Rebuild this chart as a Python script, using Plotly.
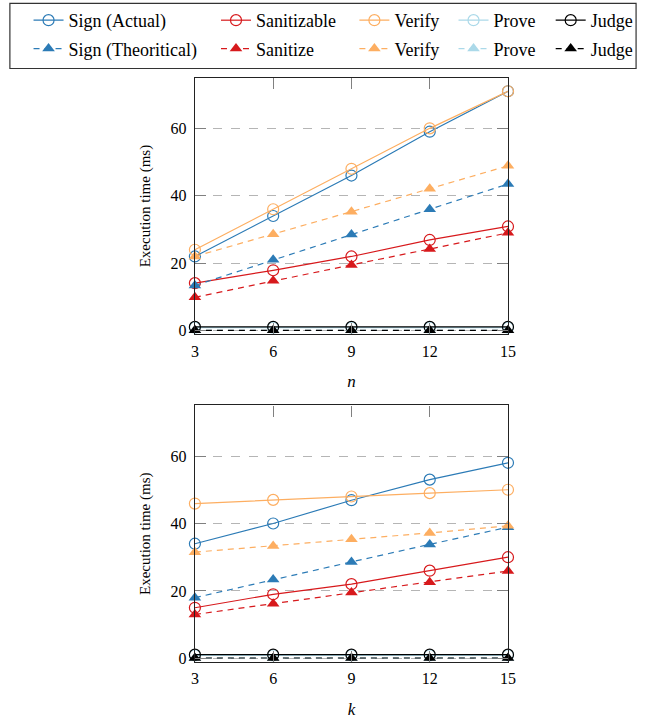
import plotly.graph_objects as go

x_vals = [3, 6, 9, 12, 15]
tick_vals_y = [0, 20, 40, 60]

# Top panel (varying n)
n_sign_actual = [22.0, 34.0, 46.0, 59.0, 71.0]
n_sanitizable = [14.1, 17.9, 22.0, 26.9, 30.9]
n_verify_actual = [24.0, 36.0, 48.0, 60.0, 71.0]
n_prove_actual = [0.9, 0.9, 0.9, 0.9, 0.9]
n_judge_actual = [1.1, 1.1, 1.1, 1.1, 1.1]
n_sign_theo = [13.4, 21.0, 28.5, 36.0, 43.5]
n_sanitize = [9.9, 14.8, 19.5, 24.2, 29.0]
n_verify_theo = [22.0, 28.6, 35.3, 42.1, 48.9]
n_prove_theo = [0.1, 0.1, 0.1, 0.1, 0.1]
n_judge_theo = [0.1, 0.1, 0.1, 0.1, 0.1]

# Bottom panel (varying k)
k_sign_actual = [34.0, 40.0, 46.9, 53.0, 58.0]
k_sanitizable = [15.0, 19.0, 22.0, 26.0, 30.0]
k_verify_actual = [45.9, 47.0, 48.0, 49.0, 50.0]
k_prove_actual = [0.9, 0.9, 0.9, 0.9, 0.9]
k_judge_actual = [1.1, 1.1, 1.1, 1.1, 1.1]
k_sign_theo = [18.0, 23.4, 28.6, 33.8, 38.9]
k_sanitize = [13.0, 16.2, 19.5, 22.6, 25.9]
k_verify_theo = [31.5, 33.3, 35.3, 37.2, 39.3]
k_prove_theo = [0.1, 0.1, 0.1, 0.1, 0.1]
k_judge_theo = [0.1, 0.1, 0.1, 0.1, 0.1]

C_SIGN = "#2c7bb6"
C_SAN = "#d7191c"
C_VER = "#fdae61"
C_PROVE = "#abd9e9"
C_JUDGE = "#000000"
FONT = "Liberation Serif"

W, H = 648, 719

fig = go.Figure()

def series(n_data, k_data, name, color, actual, legend, rank):
    for i, data in enumerate([n_data, k_data]):
        xa = "x" if i == 0 else "x2"
        ya = "y" if i == 0 else "y2"
        if actual:
            marker = dict(symbol="circle-open", size=11, color=color, line=dict(width=1.2, color=color))
            line = dict(color=color, width=1.2)
        else:
            marker = dict(symbol="triangle-up", size=11, color=color, line=dict(width=0))
            line = dict(color=color, width=1.2, dash="6px,5px")
        fig.add_trace(go.Scatter(
            x=x_vals, y=data, name=name, mode="lines+markers",
            marker=marker, line=line, xaxis=xa, yaxis=ya,
            legend=legend, legendrank=rank, showlegend=(i == 0),
            legendgroup=f"{legend}_{rank}",
            cliponaxis=False,
        ))

# draw order (Prove underneath Judge)
series(n_prove_actual, k_prove_actual, "Prove", C_PROVE, True, "legend4", 1)
series(n_prove_theo, k_prove_theo, "Prove", C_PROVE, False, "legend4", 2)
series(n_sign_actual, k_sign_actual, "Sign (Actual)", C_SIGN, True, "legend", 1)
series(n_sanitizable, k_sanitizable, "Sanitizable", C_SAN, True, "legend2", 1)
series(n_verify_actual, k_verify_actual, "Verify", C_VER, True, "legend3", 1)
series(n_sign_theo, k_sign_theo, "Sign (Theoritical)", C_SIGN, False, "legend", 2)
series(n_sanitize, k_sanitize, "Sanitize", C_SAN, False, "legend2", 2)
series(n_verify_theo, k_verify_theo, "Verify", C_VER, False, "legend3", 2)
series(n_judge_actual, k_judge_actual, "Judge", C_JUDGE, True, "legend5", 1)
series(n_judge_theo, k_judge_theo, "Judge", C_JUDGE, False, "legend5", 2)

x_dom = [194.5 / W, 513.5 / W]
y_dom_top = [1 - 336.7 / H, 1 - 78.3 / H]
y_dom_bot = [1 - 666.7 / H, 1 - 408.3 / H]

def xax(title, domain, anchor):
    return dict(domain=domain, anchor=anchor, range=[3, 15], tickvals=x_vals,
                ticks="inside", ticklen=11, tickcolor="#808080", tickwidth=1,
                mirror="allticks", showline=True, linecolor="#222", linewidth=1.2,
                showgrid=False, zeroline=False, ticklabelstandoff=2,
                tickfont=dict(family=FONT, size=16, color="black"),
                title=dict(text=title, font=dict(family=FONT, size=17, color="black"), standoff=16))

def yax(domain, anchor):
    return dict(domain=domain, anchor=anchor, range=[-1.1, 75], tickvals=tick_vals_y,
                ticks="inside", ticklen=11, tickcolor="#808080", tickwidth=1,
                mirror="allticks", showline=True, linecolor="#222", linewidth=1.2,
                showgrid=True, gridcolor="#b5b5b5", griddash="dash", gridwidth=1,
                zeroline=False, ticklabelstandoff=4,
                tickfont=dict(family=FONT, size=16, color="black"),
                title=dict(text="Execution time (ms)", font=dict(family=FONT, size=15, color="black"), standoff=16))

leg_common = dict(yanchor="top", xanchor="left", y=1 - 2 / H, bgcolor="rgba(0,0,0,0)",
                  font=dict(family=FONT, size=18, color="black"), borderwidth=0,
                  orientation="v", traceorder="grouped", tracegroupgap=2)

fig.update_layout(
    width=W, height=H, margin=dict(l=0, r=0, t=0, b=0),
    paper_bgcolor="white", plot_bgcolor="white",
    xaxis=xax("<i>n</i>", x_dom, "y"),
    yaxis=yax(y_dom_top, "x"),
    xaxis2=xax("<i>k</i>", x_dom, "y2"),
    yaxis2=yax(y_dom_bot, "x2"),
    legend=dict(x=25 / W, **leg_common),
    legend2=dict(x=216 / W, **leg_common),
    legend3=dict(x=357 / W, **leg_common),
    legend4=dict(x=458 / W, **leg_common),
    legend5=dict(x=557 / W, **leg_common),
    shapes=[dict(type="rect", xref="paper", yref="paper",
                 x0=6 / W, x1=644 / W, y0=1 - 69 / H, y1=1 - 3.3 / H,
                 line=dict(color="#333", width=1.2), fillcolor="rgba(0,0,0,0)")],
)

fig.write_html("out.html")
